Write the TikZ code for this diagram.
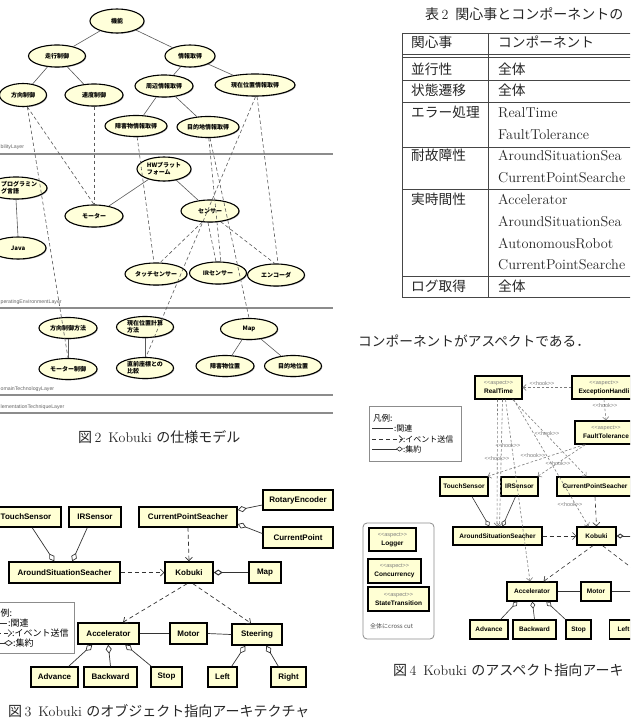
\documentclass[tikz,border=0pt]{standalone}
\usepackage{fontspec}
\newfontfamily\jp{Noto Sans CJK JP}
\newfontfamily\ar{Liberation Sans}
\usetikzlibrary{shapes.geometric,arrows.meta,shadows,calc}
\definecolor{featfill}{RGB}{255,255,218}
\definecolor{boxfill}{RGB}{255,255,212}
\definecolor{layergray}{RGB}{140,140,140}
\definecolor{linegray}{RGB}{90,90,90}
\definecolor{hookgray}{RGB}{125,125,125}
\definecolor{tabline}{RGB}{70,70,70}
\newcommand\aspectlab[1]{{\fontsize{5.5}{6}\selectfont\mdseries\color{hookgray}<{}<aspect>{}>}\\[1.5pt]#1}
\tikzset{
 feat/.style={ellipse, draw=black, line width=1.1pt, fill=featfill, inner sep=0pt,
   minimum height=22pt, align=center, font=\jp\bfseries\fontsize{6}{7}\selectfont,
   drop shadow={shadow xshift=0.8pt,shadow yshift=-0.8pt,fill=black!30,opacity=1}},
 feattext/.style={anchor=west, inner sep=0pt, align=left, font=\jp\bfseries\fontsize{6}{7}\selectfont},
 treeln/.style={draw=linegray, line width=0.6pt},
 featdash/.style={draw=linegray, line width=0.6pt, dash pattern=on 3.5pt off 2.5pt},
 layerln/.style={draw=layergray, line width=1.1pt},
 layerlab/.style={anchor=west, inner sep=0pt, text=black!60, font=\ar\fontsize{5.2}{6}\selectfont},
 cls/.style={rectangle, draw=black, line width=1.5pt, fill=boxfill, inner sep=0pt,
   font=\ar\bfseries\fontsize{8}{9}\selectfont,
   drop shadow={shadow xshift=1.4pt,shadow yshift=-1.4pt,fill=black!35,opacity=1}},
 cls4/.style={cls, line width=1.3pt, align=center, font=\ar\bfseries\fontsize{6.5}{7.5}\selectfont},
 agg/.style={draw=black!80, line width=0.7pt, -{Diamond[open,length=9pt,width=6pt]}},
 agg4/.style={draw=black!80, line width=0.6pt, -{Diamond[open,length=7pt,width=5pt]}},
 evt/.style={draw=black!80, line width=0.7pt, dash pattern=on 4pt off 3pt, -{Straight Barb[length=3.5pt,width=7pt]}},
 hook/.style={draw=hookgray, line width=0.6pt, dash pattern=on 2.5pt off 2pt, -{Straight Barb[length=3pt,width=6pt]}},
 hooklab/.style={text=hookgray, font=\ar\fontsize{5.5}{6}\selectfont, inner sep=0.5pt},
 tabln/.style={draw=tabline, line width=0.9pt},
 tj/.style={anchor=base west, inner sep=0pt, text=black!85, font=\jp\fontsize{13.7}{16}\selectfont},
 tl/.style={anchor=base west, inner sep=0pt, text=black!85, font=\fontsize{14.3}{16}\selectfont},
 capt/.style={anchor=base west, inner sep=0pt, text=black!85, font=\fontsize{14}{16}\selectfont},
 legbox/.style={rectangle, draw=black!45, line width=0.7pt, fill=white, inner sep=0pt},
 legj/.style={anchor=west, inner sep=0pt, font=\jp\fontsize{9}{10}\selectfont},
 legj4/.style={anchor=west, inner sep=0pt, font=\jp\fontsize{8}{9}\selectfont},
}
\begin{document}
\begin{tikzpicture}[x=1pt,y=-1pt]
\useasboundingbox (0,0) rectangle (630,719);
\fill[white] (0,0) rectangle (630,719);
\clip (0,0) rectangle (630,719);

%% ================= Figure 2 : feature model =================
\draw[layerln] (0,154) -- (333,154);
\draw[layerln] (0,308) -- (333,308);
\draw[layerln] (0,395) -- (333,395);
\draw[layerln] (0,413) -- (333,413);
\node[layerlab] (l1) at (0.5,147) {bilityLayer};
\node[layerlab] (l2) at (0.5,302) {peratingEnvironmentLayer};
\node[layerlab] (l3) at (0.5,389) {omainTechnologyLayer};
\node[layerlab] (l4) at (0.5,407.5) {lementationTechniqueLayer};

\node[feat, minimum width=54, minimum height=24] (f0) at (117,21) {機能};
\node[feat, minimum width=57] (f1) at (57,56) {走行制御};
\node[feat, minimum width=50] (f2) at (190,56) {情報取得};
\node[feat, minimum width=47, minimum height=23] (f11) at (23,95) {方向制御};
\node[feat, minimum width=58] (f12) at (94,95) {速度制御};
\node[feat, minimum width=58] (f21) at (164,86) {周辺情報取得};
\node[feat, minimum width=80] (f22) at (255,85) {現在位置情報取得};
\node[feat, minimum width=62, minimum height=21] (f211) at (136,126) {障害物情報取得};
\node[feat, minimum width=62, minimum height=21] (f212) at (208,127) {目的地情報取得};

\node[feat, minimum width=54, minimum height=24, align=left] (hw) at (164,169) {HWプラット\\フォーム};
\node[feat, minimum width=62] (pl) at (16,188) {};
\node[feattext] (plt) at (1,188) {プログラミン\\グ言語};
\node[feat, minimum width=56] (java) at (18,248) {Java};
\node[feat, minimum width=58] (mo) at (94,216) {モーター};
\node[feat, minimum width=58] (se) at (210,211) {センサー};
\node[feat, minimum width=62] (ts) at (156,274) {タッチセンサー};
\node[feat, minimum width=57] (ir) at (218,273) {IRセンサー};
\node[feat, minimum width=57] (en) at (276,275) {エンコーダ};

\node[feat, minimum width=58, minimum height=21] (hm) at (68,328) {方向制御方法};
\node[feat, minimum width=57, minimum height=21, align=left] (cp) at (145,327) {現在位置計算\\方法};
\node[feat, minimum width=57, minimum height=21] (map) at (249,329) {Map};
\node[feat, minimum width=58, minimum height=21] (mc) at (68,369) {モーター制御};
\node[feat, minimum width=57, minimum height=21, align=left] (cmp) at (145,368) {直前座標との\\比較};
\node[feat, minimum width=58, minimum height=21] (ob) at (225,366) {障害物位置};
\node[feat, minimum width=57, minimum height=21] (dp) at (293,366) {目的地位置};

% tree edges
\draw[treeln] (f0) -- (f1);
\draw[treeln] (f0) -- (f2);
\draw[treeln] (f1) -- (f11);
\draw[treeln] (f1) -- (f12);
\draw[treeln] (f2) -- (f21);
\draw[treeln] (f2) -- (f22);
\draw[treeln] (f21) -- (f211);
\draw[treeln] (f21) -- (f212);
\draw[treeln] (hw) -- (mo);
\draw[treeln] (hw) -- (se);
\draw[treeln] (pl.south) -- (java.north);
\draw[treeln] (hm) -- (mc);
\draw[treeln] (cp) -- (cmp);
\draw[treeln] (map) -- (ob);
\draw[treeln] (map) -- (dp);
% dashed cross-layer links
\draw[featdash] (f11.-70) -- (mc.north);
\draw[featdash] (f11.-70) -- (mo.north);
\draw[featdash] (f12.south) -- (mo.north);
\draw[featdash] (f211.-84) -- (ts.100);
\draw[featdash] (f212.-86) -- (ir.76);
\draw[featdash] (f212.-80) -- (map.north);
\draw[featdash] (f22.-87) -- (cmp.85);
\draw[featdash] (f22.-80) -- (en.80);
\draw[featdash] (se.-125) -- (ts.70);
\draw[featdash] (se.-100) -- (ir.100);
\draw[featdash] (se.-45) -- (en.96);

\node[capt] (cap2) at (78,442) {{\jp 図}\,2\enspace Kobuki {\jp の仕様モデル}};

%% ================= Table 2 =================
\node[capt] (cap5) at (425,20) {{\jp 表}\,2\enspace{\jp 関心事とコンポーネントの}};
\draw[tabln] (402,33) -- (640,33);
\draw[tabln] (402,54) -- (640,54);
\draw[tabln] (402,57) -- (640,57);
\draw[tabln] (402,80) -- (640,80);
\draw[tabln] (402,102) -- (640,102);
\draw[tabln] (402,147) -- (640,147);
\draw[tabln] (402,189) -- (640,189);
\draw[tabln] (402,276) -- (640,276);
\draw[tabln] (402,297) -- (640,297);
\draw[tabln] (402,33) -- (402,297);
\draw[tabln] (488,33) -- (488,297);
\node[tj] (t01) at (411,48) {関心事};
\node[tj] (t02) at (498,48) {コンポーネント};
\node[tj] (t11) at (411,75) {並行性};
\node[tj] (t12) at (498,75) {全体};
\node[tj] (t21) at (411,96) {状態遷移};
\node[tj] (t22) at (498,96) {全体};
\node[tj] (t31) at (411,118) {エラー処理};
\node[tl] (t32) at (498,118) {RealTime};
\node[tl] (t33) at (498,140) {FaultTolerance};
\node[tj] (t41) at (411,161) {耐故障性};
\node[tl] (t42) at (498,161) {AroundSituationSea};
\node[tl] (t43) at (498,183) {CurrentPointSearche};
\node[tj] (t51) at (411,205) {実時間性};
\node[tl] (t52) at (498,205) {Accelerator};
\node[tl] (t53) at (498,226) {AroundSituationSea};
\node[tl] (t54) at (498,248) {AutonomousRobot};
\node[tl] (t55) at (498,269) {CurrentPointSearche};
\node[tj] (t61) at (411,291) {ログ取得};
\node[tj] (t62) at (498,291) {全体};
\node[tj] (txt) at (358,346) {コンポーネントがアスペクトである．};

%% ================= Figure 3 =================
\node[cls, minimum width=70, minimum height=20] (ts3) at (26,517) {TouchSensor};
\node[cls, minimum width=52, minimum height=20] (ir3) at (95,517) {IRSensor};
\node[cls, minimum width=98, minimum height=20] (cps3) at (188,517) {CurrentPointSeacher};
\node[cls, minimum width=70, minimum height=20] (re3) at (298,500) {RotaryEncoder};
\node[cls, minimum width=70, minimum height=21] (cpt3) at (298,537.5) {CurrentPoint};
\node[cls, minimum width=111, minimum height=21] (ass3) at (64.5,572.5) {AroundSituationSeacher};
\node[cls, minimum width=48, minimum height=21] (kob3) at (189,572.5) {Kobuki};
\node[cls, minimum width=32, minimum height=21] (map3) at (265,572.5) {Map};
\node[cls, minimum width=61, minimum height=21] (acc3) at (108.5,633.5) {Accelerator};
\node[cls, minimum width=37, minimum height=21] (mot3) at (188.5,633.5) {Motor};
\node[cls, minimum width=50, minimum height=21] (ste3) at (257,634.5) {Steering};
\node[cls, minimum width=47, minimum height=20] (adv3) at (54.5,677) {Advance};
\node[cls, minimum width=53, minimum height=20] (bak3) at (110.5,677) {Backward};
\node[cls, minimum width=31, minimum height=20] (stop3) at (166.5,677) {Stop};
\node[cls, minimum width=29, minimum height=20] (left3) at (222.5,677) {Left};
\node[cls, minimum width=35, minimum height=20] (right3) at (288.5,677) {Right};

\draw[agg] ([xshift=42pt]ts3.south west) -- ([xshift=46pt]ass3.north west);
\draw[agg] ([xshift=19pt]ir3.south west) -- ([xshift=64pt]ass3.north west);
\draw[agg] ([yshift=-5pt]re3.west) -- ([yshift=7pt]cps3.east);
\draw[agg] ([yshift=4pt]cpt3.west) -- ([yshift=-7pt]cps3.east);
\draw[evt] (cps3.south) -- (kob3.north);
\draw[evt] (ass3.east) -- (kob3.west);
\draw[agg, line width=1pt] (map3.west) -- (kob3.east);
\draw[evt] ([xshift=-2pt]kob3.south) -- ([xshift=14.5pt]acc3.north);
\draw[evt] ([xshift=4pt]kob3.south) -- ([xshift=-6pt]ste3.north);
\draw[draw=black!80, line width=0.7pt] (acc3.east) -- (mot3.west);
\draw[draw=black!80, line width=0.7pt] (mot3.east) -- (ste3.west);
\draw[agg] ([xshift=-10pt]adv3.north east) -- ([xshift=15pt]acc3.south west);
\draw[agg] (bak3.north) -- ([xshift=31pt]acc3.south west);
\draw[agg] ([xshift=1pt]stop3.north west) -- ([xshift=48pt]acc3.south west);
\draw[agg] ([xshift=-6pt]left3.north east) -- ([xshift=14pt]ste3.south west);
\draw[agg] ([xshift=8pt]right3.north west) -- ([xshift=35pt]ste3.south west);

% legend of figure 3
\node[legbox, minimum width=79, minimum height=51] (leg3) at (34.5,627.5) {};
\node[legj] (leg3a) at (0.5,613) {例:};
\draw[draw=black!80, line width=0.7pt] (-10,623) -- (7,623);
\node[legj] (leg3b) at (8,623) {:関連};
\draw[evt] (-10,633) -- (12,633);
\node[legj] (leg3c) at (12,633) {:イベント送信};
\draw[agg] (-10,643) -- (13,643);
\node[legj] (leg3d) at (13,643) {:集約};

\node[capt] (cap3) at (8,716) {{\jp 図}\,3\enspace Kobuki {\jp のオブジェクト指向アーキテクチャ}};

%% ================= Figure 4 =================
\node[legbox, minimum width=92, minimum height=55] (leg4) at (415,433.5) {};
\node[legj4, font=\jp\fontsize{8.5}{9}\selectfont] (leg4a) at (373,418) {凡例:};
\draw[draw=black!80, line width=0.6pt] (372,428) -- (393,428);
\node[legj4] (leg4b) at (394,428) {:関連};
\draw[evt, line width=0.6pt] (372,439) -- (403,439);
\node[legj4] (leg4c) at (403,439) {:イベント送信};
\draw[agg4] (372,449) -- (403,449);
\node[legj4] (leg4d) at (403,449) {:集約};

\node[rectangle, rounded corners=4pt, draw=black!45, line width=0.8pt, minimum width=71, minimum height=116] (panel4) at (398.5,581) {};
\node[cls4, minimum width=47, minimum height=23] (logger) at (392.5,539.5) {\aspectlab{Logger}};
\node[cls4, minimum width=53, minimum height=24] (conc) at (394.5,571) {\aspectlab{Concurrency}};
\node[cls4, minimum width=61, minimum height=24] (stt) at (398.5,599) {\aspectlab{StateTransition}};
\node[anchor=west, inner sep=0pt, text=black!70, font=\jp\fontsize{6}{7}\selectfont] (cross) at (370,626) {全体にcross cut};

\node[cls4, minimum width=47, minimum height=23] (rt) at (498.5,387.5) {\aspectlab{RealTime}};
\node[cls4, minimum width=64, minimum height=23] (eh) at (604,387.5) {\aspectlab{ExceptionHandli}};
\node[cls4, minimum width=62, minimum height=23] (ft) at (606,432.5) {\aspectlab{FaultTolerance}};
\node[cls4, minimum width=48, minimum height=19] (ts4) at (464,486.5) {TouchSensor};
\node[cls4, minimum width=37, minimum height=19] (ir4) at (519.5,486.5) {IRSensor};
\node[cls4, minimum width=76, minimum height=19] (cps4) at (595,486.5) {CurrentPointSeacher};
\node[cls4, minimum width=89, minimum height=18] (ass4) at (497.5,536) {AroundSituationSeacher};
\node[cls4, minimum width=39, minimum height=18] (kob4) at (596.5,536) {Kobuki};
\node[cls4, minimum width=50, minimum height=19] (acc4) at (532,591.5) {Accelerator};
\node[cls4, minimum width=30, minimum height=19] (mot4) at (596,591.5) {Motor};
\node[cls4, minimum width=38, minimum height=19] (adv4) at (489,629.5) {Advance};
\node[cls4, minimum width=43, minimum height=19] (bak4) at (534.5,629.5) {Backward};
\node[cls4, minimum width=25, minimum height=19] (stop4) at (578.5,629.5) {Stop};
\node[cls4, minimum width=28, minimum height=19] (left4) at (623.5,629.5) {Left};
\coordinate (steer4) at (645,578);
\coordinate (map4) at (645,536);
\coordinate (motr4) at (645,591.5);

% hooks
\draw[hook] (eh.west) -- (rt.east);
\draw[hook] (eh.south) -- (ft.north);
\draw[hook] ([xshift=-1pt]rt.south) -- ([xshift=-0.5pt]ass4.north);
\draw[hook] ([xshift=4pt]rt.south) -- ([xshift=2pt]ass4.north);
\draw[hook] ([xshift=7pt]rt.south) -- ([xshift=-2pt]acc4.north);
\draw[hook] ([xshift=-10pt]rt.south east) -- ([xshift=30pt]cps4.north west);
\draw[hook] ([xshift=-9pt]rt.south east) -- ([xshift=-8pt]kob4.north);
\draw[hook] ([xshift=10pt]ft.south west) -- ([xshift=-1pt]ts4.north east);
\draw[hook] ([xshift=11pt]ft.south west) -- ([xshift=-1pt]ir4.north east);
\node[hooklab] (h1) at (542,384) {<{}<hook>{}>};
\node[hooklab] (h2) at (605,406) {<{}<hook>{}>};
\node[hooklab] (h3) at (547,434) {<{}<hook>{}>};
\node[hooklab] (h4) at (508,446) {<{}<hook>{}>};
\node[hooklab] (h5) at (497,459) {<{}<hook>{}>};
\node[hooklab] (h6) at (533,456) {<{}<hook>{}>};
\node[hooklab] (h7) at (558,464) {<{}<hook>{}>};
\node[hooklab] (h8) at (570,505) {<{}<hook>{}>};

% structure
\draw[agg4] ([xshift=8pt]ts4.south) -- ([xshift=37pt]ass4.north west);
\draw[agg4] ([xshift=-4pt]ir4.south) -- ([xshift=50pt]ass4.north west);
\draw[evt, line width=0.6pt] (ass4.east) -- (kob4.west);
\draw[evt, line width=0.6pt] (cps4.south) -- (kob4.north);
\draw[agg4, line width=0.9pt] (map4) -- (kob4.east);
\draw[evt, line width=0.6pt] ([xshift=-3.5pt]kob4.south) -- ([xshift=-14pt]acc4.north east);
\draw[evt, line width=0.6pt] ([xshift=6pt]kob4.south) -- (steer4);
\draw[draw=black!80, line width=0.6pt] (acc4.east) -- (mot4.west);
\draw[draw=black!80, line width=0.6pt] (mot4.east) -- (motr4);
\draw[agg4] ([xshift=-8pt]adv4.north east) -- ([xshift=11pt]acc4.south west);
\draw[agg4] (bak4.north) -- ([xshift=26pt]acc4.south west);
\draw[agg4] (stop4.north west) -- ([xshift=40pt]acc4.south west);

\node[capt] (cap4) at (393,675) {{\jp 図}\,4\enspace Kobuki {\jp のアスペクト指向アーキ}};
\end{tikzpicture}
\end{document}
